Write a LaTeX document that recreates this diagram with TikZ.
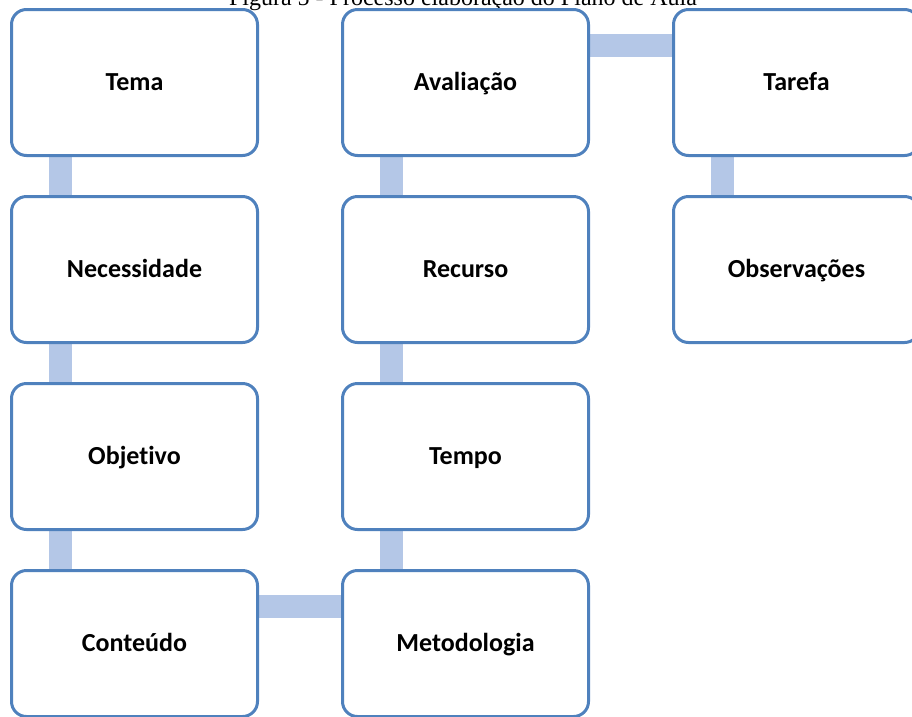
\documentclass[tikz,border=0pt]{standalone}
\usepackage{fontspec}
\setmainfont{Carlito}[Ligatures={TeX,NoCommon}]
\newfontfamily\titlefont{Liberation Serif}
\usetikzlibrary{calc}
\definecolor{boxline}{RGB}{79,129,189}
\definecolor{connfill}{RGB}{180,199,231}
\tikzset{
  stepbox/.style={draw=boxline, fill=white, line width=3pt, rounded corners=15pt,
    minimum width=246pt, minimum height=146pt, inner sep=0pt, outer sep=0pt,
    text height=19pt, text depth=4pt,
    font=\fontsize{26}{30}\selectfont\bfseries},
  conn/.style={fill=connfill, draw=none}
}
\begin{document}
\begin{tikzpicture}[x=1pt,y=-1pt]
\useasboundingbox (0,0) rectangle (912,716);
\begin{scope}
\clip (0,0) rectangle (912,716);
% title (partly cut off at the top edge, as in the reference)
\node[anchor=base, font=\titlefont\fontsize{24}{28}\selectfont, inner sep=0pt] (title) at (463,5) {Figura 5 - Processo elaboração do Plano de Aula};
% box centres
\coordinate (c11) at (134.5,82.5);
\coordinate (c12) at (134.5,269.5);
\coordinate (c13) at (134.5,456.5);
\coordinate (c14) at (134.5,643.5);
\coordinate (c21) at (465.5,82.5);
\coordinate (c22) at (465.5,269.5);
\coordinate (c23) at (465.5,456.5);
\coordinate (c24) at (465.5,643.5);
\coordinate (c31) at (796.5,82.5);
\coordinate (c32) at (796.5,269.5);
% boxes: placed first without ink so the connectors can refer to them
\begin{scope}[every node/.style={stepbox, draw=none, fill=none}]
\node (tema) at (c11) {};
\node (necessidade) at (c12) {};
\node (objetivo) at (c13) {};
\node (conteudo) at (c14) {};
\node (metodologia) at (c24) {};
\node (tempo) at (c23) {};
\node (recurso) at (c22) {};
\node (avaliacao) at (c21) {};
\node (tarefa) at (c31) {};
\node (observacoes) at (c32) {};
\end{scope}
% connectors
\fill[conn] ($(tema.south west)+(37.5,0)$) rectangle ($(necessidade.north west)+(60.5,0)$);
\fill[conn] ($(necessidade.south west)+(37.5,0)$) rectangle ($(objetivo.north west)+(60.5,0)$);
\fill[conn] ($(objetivo.south west)+(37.5,0)$) rectangle ($(conteudo.north west)+(60.5,0)$);
\fill[conn] ($(conteudo.north east)+(0,24)$) rectangle ($(metodologia.north west)+(0,47)$);
\fill[conn] ($(tempo.south west)+(37.5,0)$) rectangle ($(metodologia.north west)+(60.5,0)$);
\fill[conn] ($(recurso.south west)+(37.5,0)$) rectangle ($(tempo.north west)+(60.5,0)$);
\fill[conn] ($(avaliacao.south west)+(37.5,0)$) rectangle ($(recurso.north west)+(60.5,0)$);
\fill[conn] ($(avaliacao.north east)+(0,24)$) rectangle ($(tarefa.north west)+(0,47)$);
\fill[conn] ($(tarefa.south west)+(37.5,0)$) rectangle ($(observacoes.north west)+(60.5,0)$);
% boxes
\node[stepbox] (temaB) at (c11) {Tema};
\node[stepbox] (necessidadeB) at (c12) {Necessidade};
\node[stepbox] (objetivoB) at (c13) {Objetivo};
\node[stepbox] (conteudoB) at (c14) {Conteúdo};
\node[stepbox] (metodologiaB) at (c24) {Metodologia};
\node[stepbox] (tempoB) at (c23) {Tempo};
\node[stepbox] (recursoB) at (c22) {Recurso};
\node[stepbox] (avaliacaoB) at (c21) {Avaliação};
\node[stepbox] (tarefaB) at (c31) {Tarefa};
\node[stepbox] (observacoesB) at (c32) {Observações};
\end{scope}
\end{tikzpicture}
\end{document}
